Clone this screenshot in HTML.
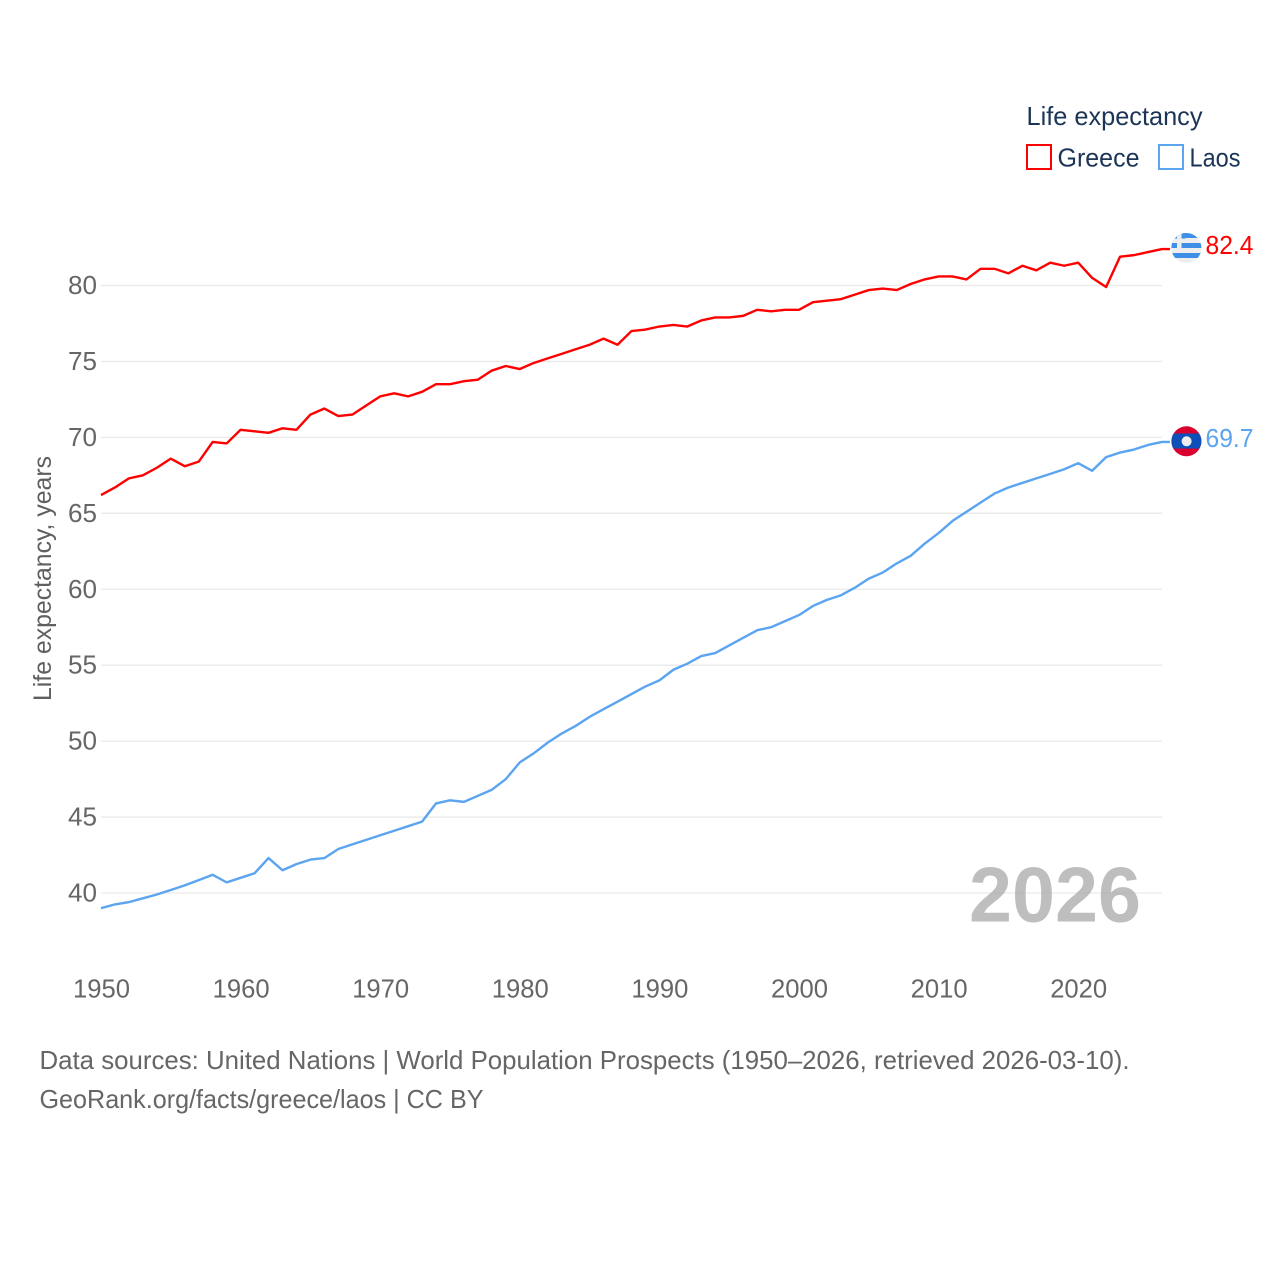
<!DOCTYPE html>
<html lang="en">
<head>
<meta charset="utf-8">
<title>Life expectancy: Greece and Laos</title>
<style>
html,body{margin:0;padding:0;background:#fff;width:1280px;height:1280px;overflow:hidden}
svg{display:block}
text{font-family:"Liberation Sans",sans-serif}
</style>
</head>
<body>
<svg id="chart" xmlns="http://www.w3.org/2000/svg" width="1280" height="1280" viewBox="0 0 1280 1280">
  <rect x="0" y="0" width="1280" height="1280" fill="#ffffff"/>
  <g id="grid"></g>
  <g id="yticks"></g>
  <g id="xticks"></g>
  <text transform="translate(51,701) rotate(-90)" font-size="25" fill="#5f5f5f" textLength="245" lengthAdjust="spacingAndGlyphs">Life expectancy, years</text>
  <text x="969" y="921.5" font-size="78" font-weight="700" fill="#a8a8a8" fill-opacity="0.75" textLength="172" lengthAdjust="spacingAndGlyphs">2026</text>
  <g id="series"></g>

  <g>
    <text x="1026.5" y="125" font-size="26" fill="#1c3557" textLength="176" lengthAdjust="spacingAndGlyphs">Life expectancy</text>
    <rect x="1027" y="145" width="24" height="24" fill="#ffffff" stroke="#ff0000" stroke-width="2"/>
    <text x="1057.5" y="166.5" font-size="26" fill="#1c3557" textLength="82" lengthAdjust="spacingAndGlyphs">Greece</text>
    <rect x="1159" y="145" width="24" height="24" fill="#ffffff" stroke="#5ba4f0" stroke-width="2"/>
    <text x="1189.5" y="166.5" font-size="26" fill="#1c3557" textLength="51" lengthAdjust="spacingAndGlyphs">Laos</text>
  </g>

  <defs>
    <clipPath id="clip-gr"><circle cx="1186.4" cy="248" r="15"/></clipPath>
    <clipPath id="clip-la"><circle cx="1186.4" cy="441.3" r="15"/></clipPath>
  </defs>
  <g clip-path="url(#clip-gr)">
    <rect x="1171" y="233" width="31" height="31" fill="#eeeeee"/>
    <rect x="1171" y="233" width="31" height="5" fill="#3f8fe8"/>
    <rect x="1171" y="243" width="31" height="5" fill="#3f8fe8"/>
    <rect x="1171" y="253" width="31" height="5" fill="#3f8fe8"/>
    <rect x="1171" y="233" width="14.5" height="15" fill="#3f8fe8"/>
    <rect x="1177" y="233" width="4.5" height="15" fill="#eeeeee"/>
    <rect x="1171" y="238.5" width="14.5" height="4.5" fill="#eeeeee"/>
  </g>
  <g clip-path="url(#clip-la)">
    <rect x="1171" y="426" width="31" height="31" fill="#d9002f"/>
    <rect x="1171" y="433.5" width="31" height="15" fill="#0c50b8"/>
    <circle cx="1186.6" cy="441.3" r="5" fill="#eeeeee"/>
  </g>
  <text x="1205.5" y="254" font-size="26" fill="#ff0000" textLength="48" lengthAdjust="spacingAndGlyphs">82.4</text>
  <text x="1205.5" y="447" font-size="26" fill="#5ba4f0" textLength="48" lengthAdjust="spacingAndGlyphs">69.7</text>

  <text x="39.5" y="1069" font-size="26" fill="#666666" textLength="1090" lengthAdjust="spacingAndGlyphs">Data sources: United Nations | World Population Prospects (1950–2026, retrieved 2026-03-10).</text>
  <a><text x="39.5" y="1108" font-size="26" fill="#666666" textLength="444" lengthAdjust="spacingAndGlyphs">GeoRank.org/facts/greece/laos | CC BY</text></a>
</svg>
<script>
const startYear = 1950;
const yTickValues = [40, 45, 50, 55, 60, 65, 70, 75, 80];
const xTickValues = [1950, 1960, 1970, 1980, 1990, 2000, 2010, 2020];
const greeceValues = [66.2,66.7,67.3,67.5,68.0,68.6,68.1,68.4,69.7,69.6,70.5,70.4,70.3,70.6,70.5,71.5,71.9,71.4,71.5,72.1,72.7,72.9,72.7,73.0,73.5,73.5,73.7,73.8,74.4,74.7,74.5,74.9,75.2,75.5,75.8,76.1,76.5,76.1,77.0,77.1,77.3,77.4,77.3,77.7,77.9,77.9,78.0,78.4,78.3,78.4,78.4,78.9,79.0,79.1,79.4,79.7,79.8,79.7,80.1,80.4,80.6,80.6,80.4,81.1,81.1,80.8,81.3,81.0,81.5,81.3,81.5,80.5,79.9,81.9,82.0,82.2,82.4];
const laosValues = [39.0,39.25,39.4,39.65,39.9,40.2,40.5,40.85,41.2,40.7,41.0,41.3,42.3,41.5,41.9,42.2,42.3,42.9,43.2,43.5,43.8,44.1,44.4,44.7,45.9,46.1,46.0,46.4,46.8,47.5,48.6,49.2,49.9,50.5,51.0,51.6,52.1,52.6,53.1,53.6,54.0,54.7,55.1,55.6,55.8,56.3,56.8,57.3,57.5,57.9,58.3,58.9,59.3,59.6,60.1,60.7,61.1,61.7,62.2,63.0,63.7,64.5,65.1,65.7,66.3,66.7,67.0,67.3,67.6,67.9,68.3,67.8,68.7,69.0,69.2,69.5,69.7];

const NS = 'http://www.w3.org/2000/svg';
function xScale(year) { return 101 + (year - 1950) * 13.96; }
function yScale(v) { return 893 - (v - 40) * 15.1875; }

const gridG = document.getElementById('grid');
const yG = document.getElementById('yticks');
const xG = document.getElementById('xticks');
const seriesG = document.getElementById('series');

yTickValues.forEach(function (v) {
  const ln = document.createElementNS(NS, 'line');
  
  
  ln.setAttribute('x1', xScale(1950));
  ln.setAttribute('x2', xScale(2026));
  ln.setAttribute('y1', yScale(v));
  ln.setAttribute('y2', yScale(v));
  ln.setAttribute('stroke', '#e9e9e9');
  ln.setAttribute('stroke-width', '1.3');
  gridG.appendChild(ln);

  const t = document.createElementNS(NS, 'text');
  
  
  t.setAttribute('x', 97);
  t.setAttribute('y', yScale(v) + 8.5);
  t.setAttribute('text-anchor', 'end');
  t.setAttribute('font-size', '26');
  t.setAttribute('fill', '#666666');
  t.setAttribute('textLength', '29');
  t.setAttribute('lengthAdjust', 'spacingAndGlyphs');
  t.textContent = String(v);
  yG.appendChild(t);
});

xTickValues.forEach(function (yr) {
  const t = document.createElementNS(NS, 'text');
  
  
  t.setAttribute('x', xScale(yr) - 28);
  t.setAttribute('y', 997.5);
  t.setAttribute('font-size', '26');
  t.setAttribute('fill', '#666666');
  t.setAttribute('textLength', '57');
  t.setAttribute('lengthAdjust', 'spacingAndGlyphs');
  t.textContent = String(yr);
  xG.appendChild(t);
});

function drawSeries(values, color, name) {
  let d = '';
  values.forEach(function (v, i) {
    d += (i ? 'L' : 'M') + xScale(startYear + i).toFixed(2) + ' ' + yScale(v).toFixed(2);
  });
  d += 'L' + (xScale(startYear + values.length - 1) + 8).toFixed(2) + ' ' + yScale(values[values.length - 1]).toFixed(2);
  const p = document.createElementNS(NS, 'path');
  
  
  p.setAttribute('d', d);
  p.setAttribute('fill', 'none');
  p.setAttribute('stroke', color);
  p.setAttribute('stroke-width', '2.4');
  p.setAttribute('stroke-linejoin', 'round');
  seriesG.appendChild(p);
}
drawSeries(greeceValues, '#ff0000', 'line-greece');
drawSeries(laosValues, '#5ba4f0', 'line-laos');
</script>
</body>
</html>
